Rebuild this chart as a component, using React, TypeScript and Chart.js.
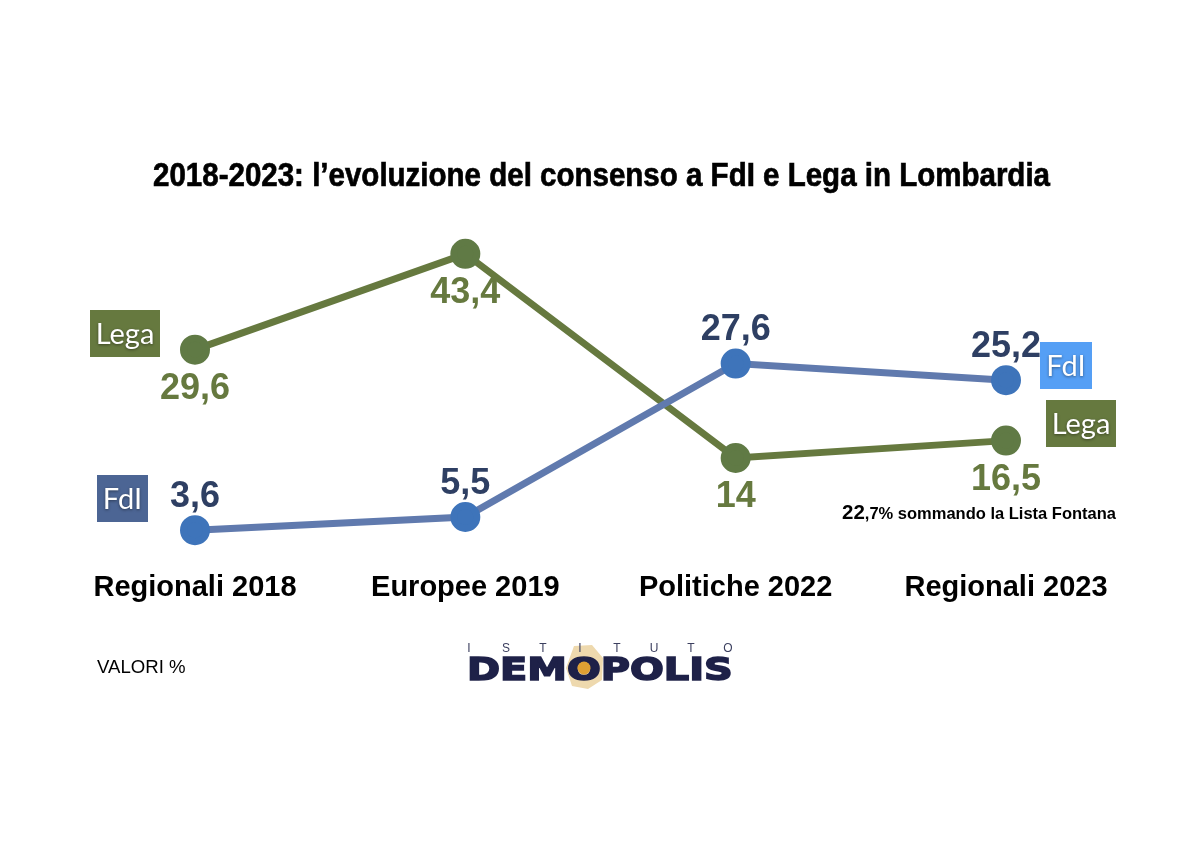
import { useEffect, useRef } from 'react';
import { Chart, registerables } from 'chart.js';

Chart.register(...registerables);

const categories = ['Regionali 2018', 'Europee 2019', 'Politiche 2022', 'Regionali 2023'];
const legaValues = [29.6, 43.4, 14, 16.5];
const fdiValues = [3.6, 5.5, 27.6, 25.2];

const titleText = '2018-2023: l\u2019evoluzione del consenso a FdI e Lega in Lombardia';
const noteBig = '22';
const noteSmall = ',7%';
const noteRest = ' sommando la Lista Fontana';

const GREEN = '#66793f';
const GREEN_DARK = '#607a45';
const BLUE_LINE = '#607aae';
const BLUE_DOT = '#3e74ba';
const NAVY = '#2e3f63';
const SANS = '"Liberation Sans", Arial, sans-serif';

const fmt = (v: number) => String(v).replace('.', ',');

function badge(ctx: CanvasRenderingContext2D, x: number, y: number, w: number, h: number, color: string, text: string) {
  ctx.fillStyle = color;
  ctx.fillRect(x, y, w, h);
  ctx.save();
  ctx.font = '29px Lato, sans-serif';
  ctx.textAlign = 'center';
  ctx.textBaseline = 'middle';
  ctx.shadowColor = 'rgba(0,0,0,0.45)';
  ctx.shadowBlur = 3;
  ctx.shadowOffsetY = 1;
  ctx.fillStyle = '#fff';
  ctx.fillText(text, x + w / 2, y + h / 2 + 1);
  ctx.restore();
}

function drawLogo(ctx: CanvasRenderingContext2D) {
  ctx.save();
  // halo behind the O
  ctx.fillStyle = '#eed9ae';
  ctx.beginPath();
  [[574, 646], [592, 645], [603, 658], [602, 680], [588, 689], [572, 686], [566, 668]].forEach(([x, y], i) =>
    i ? ctx.lineTo(x, y) : ctx.moveTo(x, y));
  ctx.closePath();
  ctx.fill();

  ctx.fillStyle = '#1e2148';
  ctx.strokeStyle = '#1e2148';
  ctx.textBaseline = 'alphabetic';
  ctx.textAlign = 'left';
  ctx.save();
  ctx.translate(467, 680);
  ctx.scale(1.245, 1);
  ctx.font = 'bold 32px "DejaVu Sans", sans-serif';
  ctx.lineWidth = 1.6;
  ctx.fillText('DEMOPOLIS', 0, 0);
  ctx.strokeText('DEMOPOLIS', 0, 0);
  ctx.restore();

  ctx.fillStyle = '#dfa033';
  ctx.beginPath();
  ctx.arc(584, 668, 6.5, 0, Math.PI * 2);
  ctx.fill();

  ctx.fillStyle = '#3b3f5f';
  ctx.font = '12px "Liberation Sans", sans-serif';
  ctx.textAlign = 'center';
  const letters = 'ISTITUTO'.split('');
  letters.forEach((l, i) => ctx.fillText(l, 469 + i * 37, 652));
  ctx.restore();
}

const annotations = {
  id: 'annotations',
  afterDatasetsDraw(chart: Chart) {
    const ctx = chart.ctx;
    ctx.save();

    ctx.fillStyle = '#000';
    ctx.strokeStyle = '#000';
    ctx.lineWidth = 0.7;
    ctx.font = `bold 34px ${SANS}`;
    ctx.textAlign = 'left';
    ctx.textBaseline = 'middle';
    ctx.fillText(titleText, 153, 177, 897);
    ctx.strokeText(titleText, 153, 177, 897);

    badge(ctx, 90, 310, 70, 47, GREEN, 'Lega');
    badge(ctx, 97, 475, 51, 47, '#4c6594', 'FdI');
    badge(ctx, 1040, 342, 52, 47, '#559ff5', 'FdI');
    badge(ctx, 1046, 400, 70, 47, GREEN, 'Lega');

    // value labels hang off the points of each dataset
    ctx.font = `bold 36px ${SANS}`;
    ctx.textAlign = 'center';
    ctx.textBaseline = 'middle';
    chart.getDatasetMeta(0).data.forEach((pt, i) => {
      ctx.fillStyle = GREEN;
      ctx.fillText(fmt(legaValues[i]), pt.x, pt.y + 39);
    });
    chart.getDatasetMeta(1).data.forEach((pt, i) => {
      ctx.fillStyle = NAVY;
      ctx.fillText(fmt(fdiValues[i]), pt.x, pt.y - 33);
    });

    ctx.fillStyle = '#000';
    ctx.textAlign = 'left';
    let x = 842;
    ctx.font = `bold 20.5px ${SANS}`;
    ctx.fillText(noteBig, x, 513);
    x += ctx.measureText(noteBig).width;
    ctx.font = `bold 16.5px ${SANS}`;
    ctx.fillText(noteSmall, x, 514);
    x += ctx.measureText(noteSmall).width;
    ctx.fillText(noteRest, x, 514);

    ctx.font = `18.6px ${SANS}`;
    ctx.fillText('VALORI %', 97, 668);

    drawLogo(ctx);
    ctx.restore();
  },
};

export default function App() {
  const canvasRef = useRef<HTMLCanvasElement>(null);

  useEffect(() => {
    if (!canvasRef.current) return;
    document.body.style.margin = '0';
    document.body.style.background = '#fff';

    const chart = new Chart(canvasRef.current, {
      type: 'line',
      data: {
        labels: categories,
        datasets: [
          {
            label: 'Lega',
            data: legaValues,
            order: 2,
            borderColor: GREEN,
            backgroundColor: GREEN_DARK,
            pointBackgroundColor: GREEN_DARK,
            pointBorderColor: GREEN_DARK,
            borderWidth: 7,
            pointRadius: 11.5,
            tension: 0,
            clip: false,
          },
          {
            label: 'FdI',
            data: fdiValues,
            order: 1,
            borderColor: BLUE_LINE,
            backgroundColor: BLUE_DOT,
            pointBackgroundColor: BLUE_DOT,
            pointBorderColor: BLUE_DOT,
            borderWidth: 7,
            pointRadius: 11.5,
            tension: 0,
            clip: false,
          },
        ],
      },
      options: {
        responsive: false,
        animation: false,
        layout: { padding: { left: 195, right: 194, top: 208, bottom: 252 } },
        plugins: { legend: { display: false }, title: { display: false }, tooltip: { enabled: false } },
        scales: {
          x: {
            offset: false,
            grid: { display: false },
            border: { display: false },
            ticks: {
              color: '#000',
              font: { family: SANS, size: 29, weight: 'bold' },
              padding: 7,
              maxRotation: 0,
              autoSkip: false,
            },
          },
          y: { display: false, min: 0, max: 50 },
        },
      },
      plugins: [annotations],
    });

    return () => chart.destroy();
  }, []);

  return <canvas ref={canvasRef} width={1200} height={864} style={{ display: 'block', width: 1200, height: 864 }} />;
}
